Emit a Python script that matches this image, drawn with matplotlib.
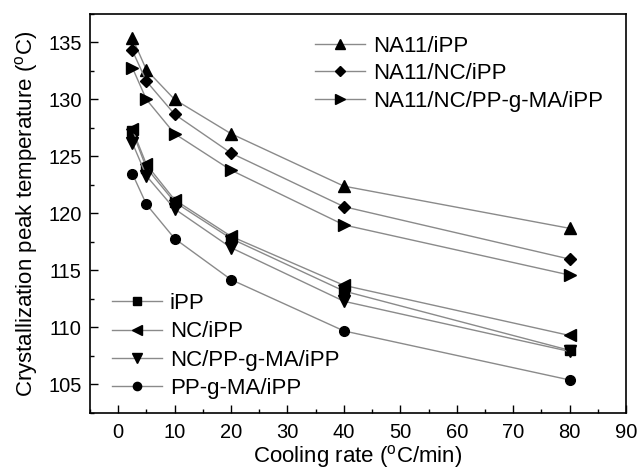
import matplotlib
matplotlib.use("Agg")
import matplotlib.pyplot as plt
from matplotlib.ticker import MultipleLocator

plt.rcParams['font.family'] = ['Liberation Sans', 'DejaVu Sans']
plt.rcParams['mathtext.fontset'] = 'custom'
plt.rcParams['mathtext.rm'] = 'Liberation Sans'
plt.rcParams['mathtext.it'] = 'Liberation Sans:italic'

cooling_rate = [2.5, 5, 10, 20, 40, 80]

na11_ipp = [135.4, 132.6, 130.0, 127.0, 122.4, 118.7]
na11_nc_ipp = [134.3, 131.6, 128.7, 125.3, 120.6, 116.0]
na11_nc_ppgma_ipp = [132.8, 130.0, 127.0, 123.8, 119.0, 114.6]
ipp = [127.2, 124.0, 121.0, 117.8, 113.2, 108.0]
nc_ipp = [127.4, 124.3, 121.2, 118.0, 113.7, 109.3]
nc_ppgma_ipp = [126.2, 123.3, 120.4, 117.0, 112.3, 107.9]
ppgma_ipp = [123.5, 120.8, 117.8, 114.2, 109.7, 105.4]

upper_series = [
    ("NA11/iPP", na11_ipp, "^"),
    ("NA11/NC/iPP", na11_nc_ipp, "D"),
    ("NA11/NC/PP-g-MA/iPP", na11_nc_ppgma_ipp, ">"),
]
lower_series = [
    ("iPP", ipp, "s"),
    ("NC/iPP", nc_ipp, "<"),
    ("NC/PP-g-MA/iPP", nc_ppgma_ipp, "v"),
    ("PP-g-MA/iPP", ppgma_ipp, "o"),
]

fig = plt.figure(figsize=(6.39, 4.69), dpi=100)
ax = fig.add_axes([90/639, 1-413/469, 536/639, 399/469])

sizes = {"^": 8, "D": 6.5, ">": 8, "s": 6.5, "<": 8, "v": 8, "o": 7}
upper_handles = []
for name, vals, m in upper_series:
    h, = ax.plot(cooling_rate, vals, color='#8a8a8a', lw=1.0, marker=m,
                 markersize=sizes[m], markerfacecolor='black',
                 markeredgecolor='black', label=name)
    upper_handles.append(h)
lower_handles = []
for name, vals, m in lower_series:
    h, = ax.plot(cooling_rate, vals, color='#8a8a8a', lw=1.0, marker=m,
                 markersize=sizes[m], markerfacecolor='black',
                 markeredgecolor='black', label=name)
    lower_handles.append(h)

ax.set_xlim(-5, 90)
ax.set_ylim(102.5, 137.5)
ax.xaxis.set_major_locator(MultipleLocator(10))
ax.xaxis.set_minor_locator(MultipleLocator(5))
ax.yaxis.set_major_locator(MultipleLocator(5))
ax.yaxis.set_minor_locator(MultipleLocator(2.5))
ax.tick_params(which='both', direction='in', top=False, right=False,
               labelsize=14.5, width=1.0)
ax.tick_params(which='major', length=6)
ax.tick_params(axis='x', which='major', pad=7)
ax.tick_params(axis='y', which='major', pad=6)
ax.tick_params(which='minor', length=3)
for s in ax.spines.values():
    s.set_linewidth(1.2)

ax.set_xlabel("Cooling rate ($^{\\mathrm{o}}$C/min)", fontsize=16, labelpad=1)
ax.set_ylabel("Crystallization peak temperature ($^{\\mathrm{o}}$C)", fontsize=16, labelpad=6)

leg1 = ax.legend(handles=upper_handles, loc='upper left',
                 bbox_to_anchor=(0.42, 0.946), frameon=False, fontsize=16,
                 handlelength=2.25, handletextpad=0.36, labelspacing=0.3,
                 borderpad=0, borderaxespad=0, markerscale=0.85)
ax.add_artist(leg1)
ax.legend(handles=lower_handles, loc='lower left',
          bbox_to_anchor=(0.041, 0.035), frameon=False, fontsize=16,
          handlelength=2.25, handletextpad=0.36, labelspacing=0.33,
          borderpad=0, borderaxespad=0, markerscale=0.85)

fig.savefig("out.png", dpi=100)
